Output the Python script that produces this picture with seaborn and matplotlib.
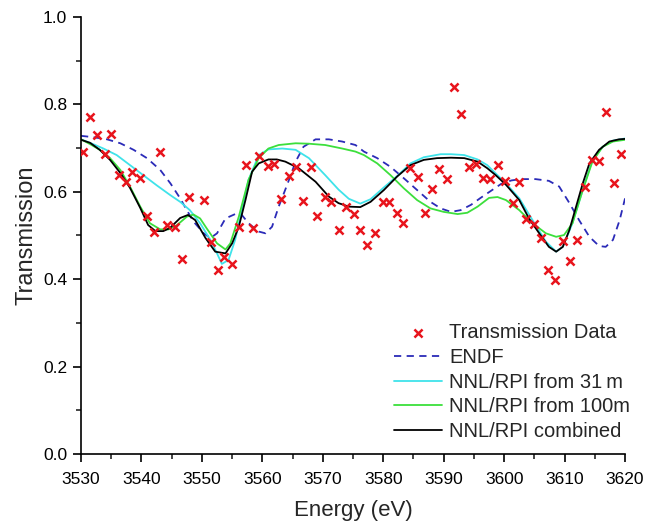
import matplotlib
matplotlib.use("Agg")
import matplotlib.pyplot as plt
from matplotlib.ticker import MultipleLocator
import seaborn as sns
import pandas as pd

# Transmission data (markers)
data_E = [3530.4, 3531.5, 3532.7, 3533.9, 3535.0, 3536.2, 3537.4, 3538.5, 3539.7, 3540.9,
          3542.1, 3543.1, 3544.3, 3545.6, 3546.7, 3547.9, 3550.3, 3551.5, 3552.7, 3553.7,
          3555.0, 3556.2, 3557.3, 3558.5, 3559.5, 3560.9, 3562.0, 3563.1, 3564.4, 3565.6,
          3566.7, 3568.0, 3569.1, 3570.3, 3571.4, 3572.6, 3573.8, 3575.1, 3576.2, 3577.3,
          3578.6, 3579.9, 3581.0, 3582.2, 3583.3, 3584.4, 3585.7, 3586.9, 3588.1, 3589.3,
          3590.5, 3591.7, 3592.9, 3594.2, 3595.3, 3596.5, 3597.7, 3598.9, 3600.2, 3601.4,
          3602.5, 3603.6, 3604.9, 3606.1, 3607.2, 3608.4, 3609.8, 3610.9, 3612.0, 3613.3,
          3614.5, 3615.7, 3616.9, 3618.1, 3619.4]
data_T = [0.691, 0.770, 0.730, 0.686, 0.732, 0.638, 0.622, 0.645, 0.631, 0.545,
          0.507, 0.691, 0.524, 0.519, 0.446, 0.589, 0.581, 0.485, 0.420, 0.451,
          0.434, 0.520, 0.661, 0.518, 0.683, 0.659, 0.664, 0.583, 0.637, 0.657,
          0.578, 0.657, 0.545, 0.588, 0.576, 0.513, 0.566, 0.550, 0.513, 0.478,
          0.505, 0.576, 0.576, 0.551, 0.529, 0.654, 0.633, 0.551, 0.606, 0.652,
          0.629, 0.839, 0.777, 0.656, 0.663, 0.631, 0.629, 0.661, 0.625, 0.574,
          0.622, 0.538, 0.526, 0.495, 0.421, 0.397, 0.488, 0.442, 0.490, 0.611,
          0.673, 0.670, 0.783, 0.621, 0.686]

# ENDF (dashed)
endf_E = [3530.0, 3532.0, 3534.3, 3536.5, 3538.7, 3540.9, 3543.1, 3544.8, 3546.4, 3547.5,
          3548.6, 3550.3, 3551.4, 3552.5, 3553.9, 3555.5, 3556.6, 3557.7, 3559.4, 3560.5,
          3561.6, 3562.7, 3564.1, 3565.5, 3566.8, 3568.8, 3571.0, 3573.2, 3575.4, 3576.8,
          3579.0, 3581.2, 3583.4, 3585.6, 3587.8, 3589.5, 3591.2, 3592.8, 3594.5, 3596.1,
          3597.8, 3599.5, 3601.2, 3602.8, 3605.2, 3607.4, 3609.1, 3610.8, 3612.4, 3614.1,
          3615.7, 3616.8, 3618.0, 3619.1, 3620.0]
endf_T = [0.728, 0.725, 0.720, 0.711, 0.696, 0.677, 0.650, 0.619, 0.585, 0.558,
          0.532, 0.505, 0.494, 0.505, 0.539, 0.549, 0.547, 0.528, 0.509, 0.505,
          0.520, 0.566, 0.616, 0.669, 0.703, 0.720, 0.720, 0.715, 0.707, 0.692,
          0.677, 0.657, 0.631, 0.604, 0.577, 0.562, 0.554, 0.558, 0.570, 0.586,
          0.602, 0.618, 0.626, 0.629, 0.629, 0.625, 0.612, 0.574, 0.535, 0.497,
          0.476, 0.474, 0.490, 0.535, 0.585]

# NNL/RPI from 31 m
m31_E = [3530.0, 3531.5, 3533.7, 3535.9, 3538.1, 3540.3, 3542.5, 3544.7, 3546.4, 3548.0,
         3549.7, 3551.4, 3552.5, 3553.3, 3554.4, 3555.5, 3556.6, 3557.7, 3559.4, 3561.0,
         3563.3, 3565.5, 3567.7, 3570.4, 3572.6, 3574.3, 3576.2, 3577.9, 3580.1, 3582.3,
         3584.5, 3586.7, 3589.5, 3591.2, 3593.4, 3595.6, 3597.2, 3598.6, 3600.3, 3602.5,
         3604.7, 3606.9, 3608.6, 3609.7, 3611.3, 3613.0, 3614.6, 3616.3, 3618.0, 3620.0]
m31_T = [0.720, 0.712, 0.699, 0.684, 0.661, 0.638, 0.615, 0.593, 0.577, 0.558,
         0.528, 0.490, 0.459, 0.435, 0.444, 0.490, 0.558, 0.627, 0.684, 0.697,
         0.699, 0.696, 0.677, 0.638, 0.605, 0.584, 0.573, 0.583, 0.610, 0.636,
         0.665, 0.679, 0.686, 0.686, 0.684, 0.674, 0.661, 0.642, 0.619, 0.585,
         0.535, 0.486, 0.463, 0.474, 0.528, 0.604, 0.673, 0.703, 0.717, 0.722]

# NNL/RPI from 100 m
m100_E = [3530.0, 3531.5, 3533.1, 3534.8, 3536.5, 3538.1, 3539.8, 3541.4, 3543.1, 3544.5,
          3545.9, 3547.5, 3548.6, 3549.7, 3550.8, 3552.5, 3553.9, 3554.7, 3556.1, 3557.7,
          3559.4, 3561.0, 3562.7, 3565.5, 3567.7, 3570.4, 3573.2, 3575.4, 3576.8, 3579.0,
          3581.2, 3583.4, 3585.6, 3587.8, 3590.0, 3592.3, 3593.9, 3595.6, 3597.5, 3598.9,
          3600.3, 3602.5, 3604.7, 3606.9, 3608.6, 3609.9, 3611.3, 3613.0, 3614.6, 3616.3,
          3618.0, 3620.0]
m100_T = [0.720, 0.709, 0.696, 0.677, 0.650, 0.612, 0.566, 0.528, 0.514, 0.514,
          0.524, 0.543, 0.548, 0.539, 0.516, 0.482, 0.468, 0.482, 0.543, 0.627,
          0.677, 0.699, 0.707, 0.711, 0.710, 0.707, 0.699, 0.692, 0.684, 0.665,
          0.638, 0.608, 0.581, 0.562, 0.554, 0.549, 0.552, 0.566, 0.586, 0.588,
          0.581, 0.558, 0.528, 0.505, 0.497, 0.501, 0.528, 0.604, 0.669, 0.703,
          0.715, 0.719]

# NNL/RPI combined
comb_E = [3530.0, 3531.5, 3533.1, 3534.8, 3536.5, 3538.1, 3539.8, 3541.1, 3542.3, 3543.6,
          3544.7, 3546.4, 3547.7, 3548.9, 3550.6, 3552.2, 3553.9, 3555.0, 3556.1, 3557.2,
          3558.3, 3559.4, 3561.0, 3562.4, 3563.8, 3566.0, 3568.8, 3571.0, 3572.6, 3574.3,
          3576.2, 3577.9, 3580.1, 3582.3, 3584.5, 3586.7, 3588.9, 3591.2, 3593.4, 3595.6,
          3597.2, 3598.6, 3600.3, 3602.5, 3604.1, 3605.8, 3607.4, 3608.6, 3609.7, 3610.8,
          3611.9, 3613.0, 3614.1, 3615.7, 3617.4, 3619.0, 3620.0]
comb_T = [0.719, 0.712, 0.696, 0.673, 0.643, 0.609, 0.563, 0.524, 0.510, 0.510,
          0.517, 0.540, 0.547, 0.535, 0.494, 0.463, 0.459, 0.482, 0.520, 0.581,
          0.646, 0.665, 0.674, 0.674, 0.669, 0.654, 0.623, 0.589, 0.574, 0.566,
          0.565, 0.577, 0.604, 0.635, 0.661, 0.673, 0.677, 0.678, 0.677, 0.669,
          0.654, 0.638, 0.616, 0.581, 0.539, 0.505, 0.474, 0.463, 0.474, 0.513,
          0.566, 0.619, 0.665, 0.696, 0.715, 0.720, 0.721]

labels = ["Transmission Data", "ENDF", "NNL/RPI from 31\u2009m", "NNL/RPI from 100m",
          "NNL/RPI combined"]
x_ticks = [3530, 3540, 3550, 3560, 3570, 3580, 3590, 3600, 3610, 3620]
y_ticks = [0.0, 0.2, 0.4, 0.6, 0.8, 1.0]

sns.set_style("ticks")
plt.rcParams["font.family"] = ["Liberation Sans", "DejaVu Sans"]

fig = plt.figure(figsize=(6.62, 5.24), dpi=100)
ax = fig.add_axes([0.1224, 0.1336, 0.8218, 0.834])

lw = 1.3
sns.lineplot(x=endf_E, y=endf_T, ax=ax, color="#2b2bb8", lw=lw,
             linestyle=(0, (4, 3)), label=labels[1], sort=False)
sns.lineplot(x=m31_E, y=m31_T, ax=ax, color="#3fe3ea", lw=lw, label=labels[2], sort=False)
sns.lineplot(x=m100_E, y=m100_T, ax=ax, color="#3cdf3c", lw=lw, label=labels[3], sort=False)
sns.lineplot(x=comb_E, y=comb_T, ax=ax, color="black", lw=lw, label=labels[4], sort=False)
sns.scatterplot(x=data_E, y=data_T, ax=ax, marker="x", color="#e8141c", s=34,
                linewidth=1.8, label=labels[0], zorder=5)

ax.set_xlim(3530, 3620)
ax.set_ylim(0.0, 1.0)
ax.set_xticks(x_ticks)
ax.set_yticks(y_ticks)
ax.set_yticklabels([f"{v:.1f}" for v in y_ticks])
ax.xaxis.set_minor_locator(MultipleLocator(5))
ax.yaxis.set_minor_locator(MultipleLocator(0.1))
ax.tick_params(which="major", direction="out", length=6, width=1.2, labelsize=12.5,
               pad=4, colors="black")
ax.tick_params(axis="x", which="major", pad=7)
ax.tick_params(which="minor", direction="out", length=3.5, width=1.2)
for s in ["top", "right"]:
    ax.spines[s].set_visible(False)
for s in ["left", "bottom"]:
    ax.spines[s].set_linewidth(1.2)
    ax.spines[s].set_color("black")

ax.set_xlabel("Energy (eV)", fontsize=16, labelpad=9)
ax.set_ylabel("Transmission", fontsize=17, labelpad=4)

handles, labs = ax.get_legend_handles_labels()
order = [labs.index(l) for l in labels]
ax.legend([handles[i] for i in order], [labs[i] for i in order],
          loc="lower left", bbox_to_anchor=(0.575, 0.03), frameon=False,
          fontsize=14.5, handlelength=2.4, handletextpad=0.35,
          labelspacing=0.28, borderpad=0, borderaxespad=0)

fig.savefig("out.png", dpi=100)
